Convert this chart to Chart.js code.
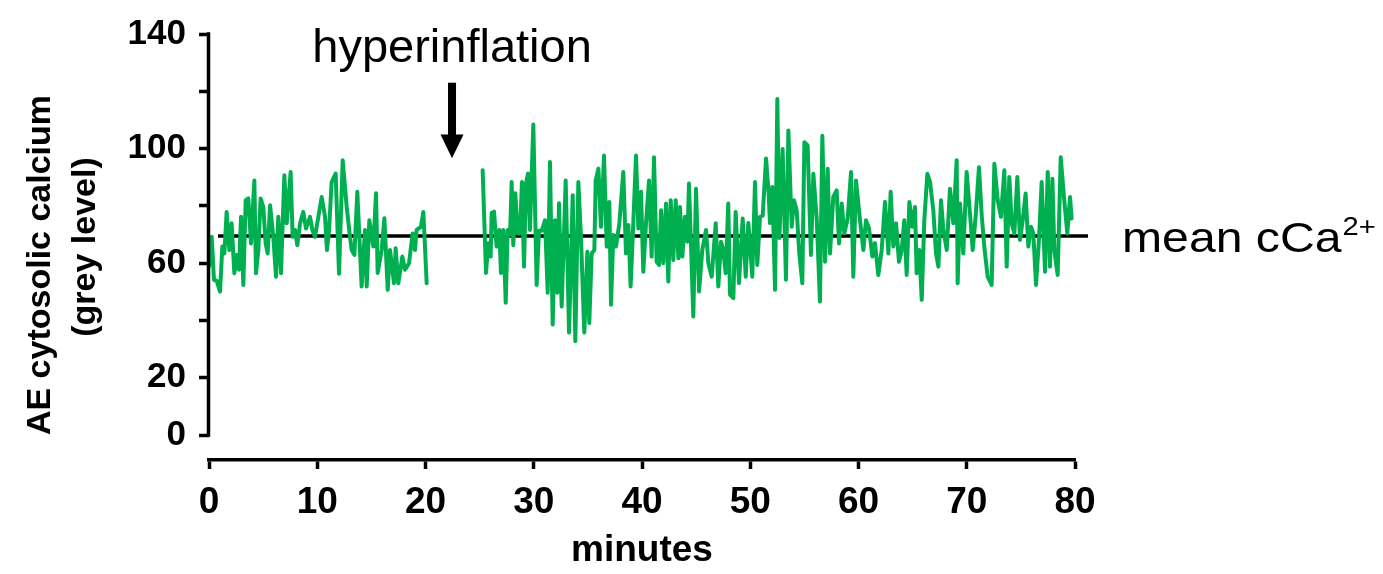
<!DOCTYPE html>
<html><head><meta charset="utf-8">
<script src="https://cdn.jsdelivr.net/npm/chart.js@4.4.0/dist/chart.umd.min.js"></script>
<style>html,body{margin:0;padding:0;background:#fff}#wrap{width:1383px;height:574px;position:relative}canvas{display:block}</style>
</head><body><div id="wrap"><canvas id="c" width="1383" height="574" style="width:1383px;height:574px"></canvas></div>
<script>
// time in minutes (null value = recording gap during hyperinflation)
const minutes = [
0.00,0.25,0.46,0.71,1.02,1.23,1.42,1.63,1.88,2.09,2.34,2.56,2.77,2.96,3.17,3.39,3.63,3.88,4.19,4.34,4.56,4.77,5.02,5.23,5.42,5.64,5.94,6.19,6.40,6.65,6.96,7.18,7.54,7.73,7.94,8.16,8.41,8.71,8.96,9.33,9.55,
9.79,10.05,10.41,10.72,10.90,11.10,11.33,11.70,12.01,12.35,12.72,13.00,13.18,13.43,13.70,14.10,14.41,14.57,14.81,15.18,15.43,15.58,15.95,16.20,16.51,16.72,17.09,17.24,17.49,17.86,18.11,18.48,18.81,19.03,19.18,19.58,19.80,20.11,
22.50,
25.28,25.59,25.80,26.02,26.11,26.33,26.57,26.82,26.97,27.19,27.41,27.59,27.81,27.96,28.11,28.30,28.51,28.73,28.91,29.10,29.28,29.47,29.65,29.96,30.27,30.48,30.73,31.04,31.29,31.50,31.75,31.96,32.18,32.33,32.58,32.95,33.26,33.60,33.84,34.12,34.36,34.67,34.95,35.13,
35.35,35.60,35.72,35.97,36.21,36.49,36.74,36.98,37.14,37.35,37.60,37.91,38.27,38.52,38.74,38.95,39.20,39.45,39.66,39.91,40.12,40.37,40.65,40.89,41.11,41.35,41.57,41.76,41.97,42.22,42.43,42.65,42.89,43.11,43.36,43.51,43.73,43.97,44.19,44.34,44.74,44.99,
45.27,45.57,45.91,46.13,46.44,46.81,47.05,47.30,47.51,47.73,47.97,48.13,48.44,48.65,48.96,
49.30,49.58,49.82,50.19,50.44,50.65,50.90,51.15,51.46,51.70,51.82,52.04,52.29,52.50,52.69,52.99,53.30,53.52,53.83,54.04,54.29,54.53,54.81,55.00,55.30,55.61,55.83,56.14,56.44,56.66,56.91,57.15,57.37,57.67,57.98,58.20,58.45,58.69,59.00,59.31,59.52,59.77,
60.14,60.45,60.69,60.97,61.28,61.52,61.83,62.14,62.45,62.76,62.97,63.22,63.47,63.74,63.99,64.23,64.45,64.70,64.97,65.22,65.37,65.62,65.84,66.08,66.36,66.61,66.91,67.16,67.38,67.62,67.84,68.15,68.45,68.76,69.07,69.16,
69.38,69.68,69.99,70.30,70.55,70.82,71.13,71.38,71.62,71.93,72.30,72.55,72.86,73.16,73.47,73.69,73.93,74.15,74.40,74.67,74.92,75.17,75.44,75.69,75.94,76.15,76.40,76.67,76.92,77.23,77.48,77.69,77.91,78.09,78.40,78.68,78.98,79.29,79.54,79.69
];
// AE cytosolic calcium (grey level)
const calcium = [
58.8,69.2,54.2,53.8,50.1,65.8,63.4,77.9,64.6,73.9,56.5,62.9,57.7,76.2,52.4,82.0,82.6,66.9,88.9,56.5,64.6,82.6,79.6,67.0,63.4,80.2,69.2,55.3,76.2,56.5,90.7,73.9,91.8,69.2,71.6,66.3,73.9,77.9,72.1,76.2,71.6,
69.2,75.0,83.1,76.2,64.6,72.0,88.3,91.3,56.3,95.9,79.6,70.0,64.6,62.9,84.9,51.9,71.6,51.9,75.0,65.8,84.4,56.6,64.6,75.7,50.7,64.6,53.0,65.2,53.0,62.3,57.7,60.0,70.4,64.6,71.6,72.7,77.9,53.0,
null,
92.4,56.6,67.0,62.3,77.5,78.0,65.8,71.6,56.6,71.6,46.2,71.6,70.0,88.3,66.3,84.4,70.4,70.4,88.3,58.8,87.8,91.3,71.6,108.4,52.4,71.3,71.3,75.0,49.7,95.3,38.6,75.0,49.7,80.9,44.9,88.9,35.8,83.7,32.8,88.3,69.2,35.8,64.0,39.1,
63.4,64.6,88.9,93.0,72.7,97.6,65.8,81.4,45.5,69.8,65.8,73.9,91.8,63.4,73.3,51.9,74.4,97.6,72.1,84.9,57.0,73.9,88.9,62.3,97.0,60.5,59.4,78.5,60.0,80.8,53.6,82.0,61.1,82.0,61.7,79.6,62.3,76.2,67.5,87.8,41.4,86.0,
50.1,64.6,71.6,60.0,55.3,73.9,51.9,67.5,64.6,56.5,80.8,49.0,47.8,77.9,53.0,
75.6,55.3,74.0,55.3,88.3,59.4,76.2,76.6,96.5,84.4,74.0,86.6,50.7,117.3,68.8,99.9,54.2,106.3,72.7,82.0,78.5,63.4,53.0,102.2,101.1,62.9,91.2,75.6,46.6,104.5,60.5,93.0,63.4,83.1,85.4,66.9,80.8,70.4,75.6,91.8,55.3,88.9,
75.0,64.6,75.0,72.1,62.3,67.0,55.9,64.6,81.4,63.4,84.9,65.8,73.9,60.5,64.6,75.0,55.9,81.4,72.7,79.6,56.5,64.6,47.2,75.0,91.2,88.3,78.5,63.4,58.8,82.0,71.6,64.6,86.0,73.9,95.9,53.0,
80.8,63.4,91.8,77.3,64.6,76.2,93.5,76.8,65.8,55.3,52.4,94.7,82.0,76.2,92.4,58.8,90.1,73.9,70.4,90.1,68.1,75.0,84.3,65.8,72.7,70.4,52.4,68.1,88.3,57.0,91.8,58.8,89.5,64.6,55.9,97.0,83.1,70.4,83.1,75.6
];
const meanMinutes = [0.83, 81.2];
const meanCalcium = [69.5, 69.5];
const xTickValues = [0,10,20,30,40,50,60,70,80];
const yTickValues = [0,20,40,60,80,100,120,140];
const yTickLabels = ['0','20','','60','','100','','140'];
const arrowMinute = 22.45;
const arrowFrom = 123, arrowHeadBase = 104.9, arrowTip = 96.6;

const FONT = '"Liberation Sans", Arial, Helvetica, sans-serif';

const decor = {
  id: 'decor',
  afterDraw(chart) {
    const ctx = chart.ctx, xs = chart.scales.x, ys = chart.scales.y;
    ctx.save();
    // y axis line (0..140 only)
    ctx.strokeStyle = '#000'; ctx.lineWidth = 3.5; ctx.lineCap = 'butt';
    const ax = ys.right - 0.5;
    ctx.beginPath();
    ctx.moveTo(ax, ys.getPixelForValue(140) - 1.7);
    ctx.lineTo(ax, ys.getPixelForValue(0) + 1.7);
    ctx.stroke();
    // arrow
    const axp = xs.getPixelForValue(arrowMinute);
    ctx.fillStyle = '#000';
    ctx.fillRect(axp - 4, ys.getPixelForValue(arrowFrom), 8, ys.getPixelForValue(arrowHeadBase) - ys.getPixelForValue(arrowFrom) + 1);
    ctx.beginPath();
    ctx.moveTo(axp - 11.5, ys.getPixelForValue(arrowHeadBase));
    ctx.lineTo(axp + 11.5, ys.getPixelForValue(arrowHeadBase));
    ctx.lineTo(axp, ys.getPixelForValue(arrowTip));
    ctx.closePath(); ctx.fill();
    // hyperinflation label
    ctx.font = '47px ' + FONT;
    ctx.textAlign = 'center'; ctx.textBaseline = 'alphabetic';
    ctx.fillText('hyperinflation', axp, 62);
    // mean label
    ctx.save();
    ctx.translate(1122, 252);
    ctx.scale(1.12, 1);
    ctx.font = '43px ' + FONT;
    ctx.textAlign = 'left';
    ctx.fillText('mean cCa', 0, 0);
    const w = ctx.measureText('mean cCa').width;
    ctx.font = '26px ' + FONT;
    ctx.fillText('2+', w + 1, -17);
    ctx.restore();
    // y axis title (two lines)
    ctx.font = 'bold 34px ' + FONT;
    ctx.textAlign = 'center'; ctx.textBaseline = 'middle';
    ctx.save(); ctx.translate(41, 265); ctx.rotate(-Math.PI / 2);
    ctx.fillText('AE cytosolic calcium', 0, 0); ctx.restore();
    ctx.save(); ctx.translate(86, 247); ctx.rotate(-Math.PI / 2);
    ctx.fillText('(grey level)', 0, 0); ctx.restore();
    ctx.restore();
  }
};

new Chart(document.getElementById('c'), {
  type: 'line',
  data: {
    datasets: [
      {
        data: minutes.map((m, i) => ({x: m, y: calcium[i]})),
        borderColor: '#00B050', borderWidth: 4, pointRadius: 0, tension: 0,
        borderJoinStyle: 'round', borderCapStyle: 'round', spanGaps: false
      },
      {
        data: meanMinutes.map((m, i) => ({x: m, y: meanCalcium[i]})),
        borderColor: '#000', borderWidth: 3.5, pointRadius: 0, clip: false
      }
    ]
  },
  options: {
    responsive: false, animation: false, devicePixelRatio: 1,
    layout: {padding: {left: 0, right: 308, top: 32, bottom: 0}},
    plugins: {legend: {display: false}, tooltip: {enabled: false}},
    scales: {
      x: {
        type: 'linear', min: 0, max: 80,
        afterBuildTicks: s => { s.ticks = xTickValues.map(v => ({value: v})); },
        afterFit: s => { s.height = 114; },
        grid: {drawOnChartArea: false, drawTicks: true, tickLength: 9, tickWidth: 3.5, tickColor: '#000'},
        border: {display: true, color: '#000', width: 3.5},
        ticks: {color: '#000', padding: 12, maxRotation: 0, autoSkip: false,
          font: {family: FONT, size: 37, weight: 'bold'}},
        title: {display: true, text: 'minutes', color: '#000', padding: {top: 0, bottom: 1},
          font: {family: FONT, size: 37, weight: 'bold'}}
      },
      y: {
        type: 'linear', min: -8.7, max: 140,
        afterBuildTicks: s => { s.ticks = yTickValues.map(v => ({value: v})); },
        afterFit: s => { s.width = 209; },
        grid: {drawOnChartArea: false, drawTicks: true, tickLength: 10, tickWidth: 3.5, tickColor: '#000'},
        border: {display: false},
        ticks: {color: '#000', padding: 13, autoSkip: false,
          callback: (v) => { const i = yTickValues.indexOf(v); return i >= 0 ? yTickLabels[i] : ''; },
          font: {family: FONT, size: 35, weight: 'bold'}}
      }
    }
  },
  plugins: [decor]
});
</script></body></html>
